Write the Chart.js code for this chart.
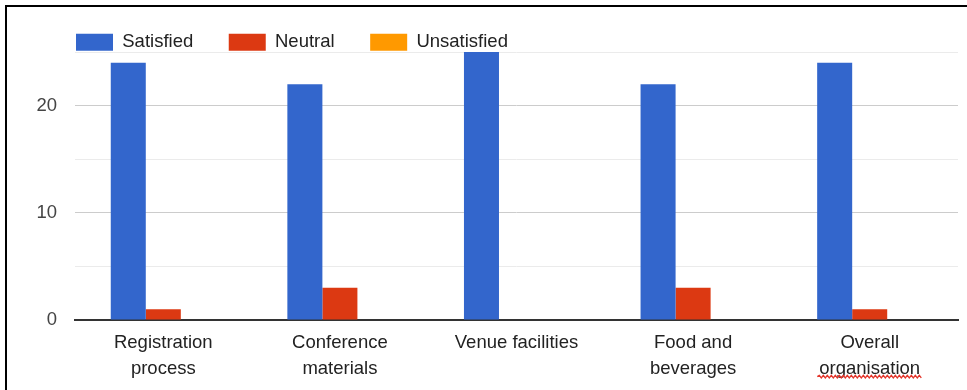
<!DOCTYPE html>
<html>
<head>
<meta charset="utf-8">
<script src="https://cdn.jsdelivr.net/npm/chart.js@4.4.0/dist/chart.umd.min.js"></script>
<style>
	html, body { margin: 0; padding: 0; background: #fff; overflow: hidden; }
	#wrap { position: relative; width: 967px; height: 390px; overflow: hidden; }
	#chart_demo { display: block; }
	#frame { position: absolute; left: 5px; top: 5px; width: 1000px; height: 400px; border-top: 2px solid #000; border-left: 2px solid #000; pointer-events: none; }
</style>
</head>
<body>
<div id="wrap">
	<canvas id="chart_demo" width="967" height="390"></canvas>
	<div id="frame"></div>
</div>
<script>
	const categories = [
		["Registration", "process"],
		["Conference", "materials"],
		"Venue facilities",
		["Food and", "beverages"],
		["Overall", "organisation"]
	];
	const satisfied = [24, 22, 25, 22, 24];
	const neutral = [1, 3, 0, 3, 1];
	const unsatisfied = [0, 0, 0, 0, 0];
	const yTickLabels = [0, 10, 20];

	const fontSize = 18.5;
	Chart.defaults.font.family = "'Liberation Sans', Arial, sans-serif";
	Chart.defaults.font.size = fontSize;

	const labelPadding = 10;
	const labelLineHeight = 1.41;

	// red spell-check squiggle under the second line of the last category label
	const spellMark = {
		id: "spellMark",
		afterDraw: function(chart) {
			const scale = chart.scales.x;
			const last = categories.length - 1;
			const word = categories[last][1];
			const c = chart.ctx;
			const lh = fontSize * labelLineHeight;
			c.save();
			c.font = fontSize + "px 'Liberation Sans', Arial, sans-serif";
			const w = c.measureText(word).width + 4;
			const cx = scale.getPixelForTick(last);
			const y = scale.top + labelPadding + lh * 1.5 + 7.5;
			c.strokeStyle = "#e3342a";
			c.lineWidth = 1.3;
			c.beginPath();
			let up = true;
			for (let x = cx - w / 2; x <= cx + w / 2; x += 2) {
				if (x === cx - w / 2) {
					c.moveTo(x, y);
				} else {
					c.lineTo(x, up ? y - 1.3 : y + 1.3);
					up = !up;
				}
			}
			c.stroke();
			c.restore();
		}
	};

	const ctx = document.getElementById("chart_demo").getContext("2d");

	const data = {
		labels: categories,
		datasets: [
			{
				label: "Satisfied",
				data: satisfied,
				backgroundColor: "#3366cc",
			},
			{
				label: "Neutral",
				data: neutral,
				backgroundColor: "#dc3912",
			},
			{
				label: "Unsatisfied",
				data: unsatisfied,
				backgroundColor: "#ff9900",
			},
		],
	};

	const config = {
		type: "bar",
		data: data,
		plugins: [spellMark],
		options: {
			responsive: false,
			maintainAspectRatio: false,
			animation: false,
			layout: {
				padding: { left: 0, right: 9, top: 32, bottom: 0 },
			},
			datasets: {
				bar: {
					categoryPercentage: 0.595,
					barPercentage: 1,
				},
			},
			plugins: {
				legend: {
					align: "start",
					fullSize: false,
					maxHeight: 20,
					labels: {
						boxWidth: 37,
						boxHeight: 17,
						padding: 1,
						color: "#222",
						// wide gap between legend entries
						generateLabels: function(chart) {
							const items = Chart.defaults.plugins.legend.labels.generateLabels(chart);
							items.forEach(function(item) {
								item.text = item.text + "\u00a0".repeat(6) + "\u2009";
							});
							return items;
						},
					},
				},
				tooltip: {
					enabled: false,
				},
			},
			scales: {
				x: {
					grid: {
						display: false,
						drawTicks: false,
					},
					border: {
						color: "#333",
						width: 2,
					},
					ticks: {
						color: "#222",
						padding: labelPadding,
						maxRotation: 0,
						font: {
							lineHeight: labelLineHeight,
						},
					},
					afterFit: function(scale) {
						scale.height = 70;
					},
				},
				y: {
					min: 0,
					max: 25,
					border: {
						display: false,
					},
					grid: {
						drawTicks: false,
						color: function(c) {
							return c.tick.value % 10 === 0 ? "#cccccc" : "#ebebeb";
						},
					},
					ticks: {
						stepSize: 5,
						padding: 18,
						color: "#444",
						callback: function(value) {
							return yTickLabels.includes(value) ? value : "";
						},
					},
					afterFit: function(scale) {
						scale.width = 75;
					},
				},
			},
		},
	};

	new Chart(ctx, config);
</script>
</body>
</html>
